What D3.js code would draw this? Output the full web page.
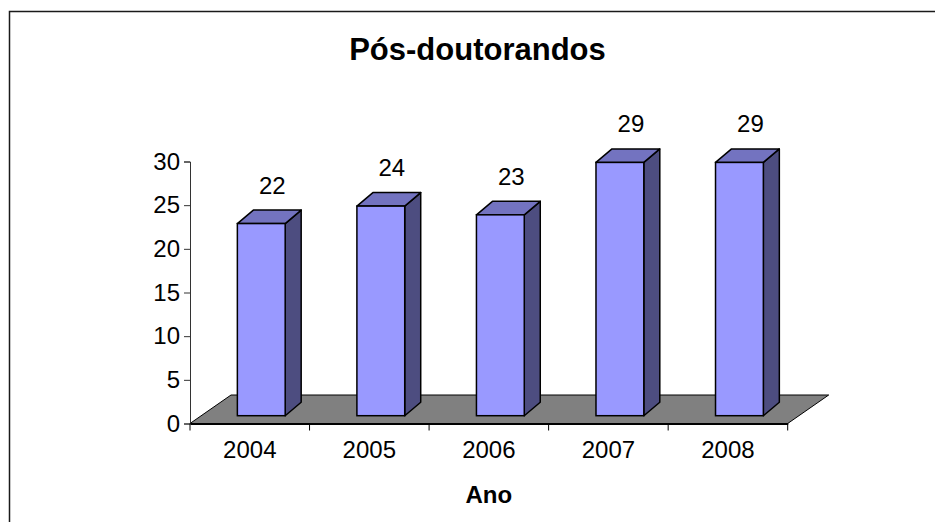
<!DOCTYPE html>
<html>
<head>
<meta charset="utf-8">
<script src="https://cdn.jsdelivr.net/npm/d3@7"></script>
<style>
  body { margin: 0; background: #fff; }
  text { font-family: "Liberation Sans", Arial, sans-serif; }
</style>
</head>
<body>
<svg id="drawing_region"></svg>
<script>
const years = ["2004", "2005", "2006", "2007", "2008"];
const values = [22, 24, 23, 29, 29];
const yTicks = [0, 5, 10, 15, 20, 25, 30];
const chartTitle = "Pós-doutorandos";
const xTitle = "Ano";

class BarChart3D {

    constructor( config ) {
        this.config = {
            parent: config.parent,
            width: config.width || 935,
            height: config.height || 522,
            margin: config.margin || {top:10, right:10, bottom:10, left:10}
        }
        this.init();
    }

    init() {
        let self = this;

        self.svg = d3.select( self.config.parent )
            .attr('width', self.config.width)
            .attr('height', self.config.height);

        // plot area: front edge of the floor
        self.x0 = 190; self.x1 = 787.7;
        self.y0 = 423.5; self.y1 = 161.5;

        self.xscale = d3.scaleBand()
            .domain( years )
            .range( [self.x0, self.x1] )
            .padding( 0 );

        self.yscale = d3.scaleLinear()
            .domain( [0, 30] )
            .range( [self.y0, self.y1] );
    }

    render() {
        let self = this;
        const floorD = {dx: 41, dy: -28.5};
        const barOff = {dx: 11.5, dy: -7.8};
        const barD = {dx: 16, dy: -13.5};
        const barRatio = 0.4;

        // outer border
        self.svg.append('rect')
            .attr('x', 9.5).attr('y', 11.5)
            .attr('width', 1000).attr('height', 1000)
            .attr('fill', 'none')
            .attr('stroke', '#1a1a1a')
            .attr('stroke-width', 1.5);

        // title
        self.svg.append('text')
            .attr('x', 477.5).attr('y', 60)
            .attr('text-anchor', 'middle')
            .attr('font-size', 31).attr('font-weight', 'bold')
            .text( chartTitle );

        // floor
        const floor = [[self.x0, self.y0], [self.x1, self.y0],
                       [self.x1 + floorD.dx, self.y0 + floorD.dy],
                       [self.x0 + floorD.dx, self.y0 + floorD.dy]];
        self.svg.append('path')
            .attr('d', d3.line()(floor) + 'Z')
            .attr('fill', '#808080')
            .attr('stroke', '#000')
            .attr('stroke-width', 1);

        // y axis
        const yAxis = d3.axisLeft( self.yscale )
            .tickValues( yTicks )
            .tickSize( 6 )
            .tickPadding( 4 );
        const ga = self.svg.append('g')
            .attr('transform', `translate(${self.x0},0)`)
            .call( yAxis );
        ga.select('.domain').attr('stroke', '#333').attr('stroke-width', 1);
        ga.selectAll('line').attr('stroke', '#333');
        ga.selectAll('text')
            .attr('font-size', 24)
            .attr('fill', '#000')
            .attr('font-family', '"Liberation Sans", Arial, sans-serif');

        // x axis
        const xAxis = d3.axisBottom( self.xscale )
            .tickSize( 0 )
            .tickPadding( 0 );
        const gx = self.svg.append('g')
            .attr('transform', `translate(0,${self.y0})`)
            .call( xAxis );
        gx.select('.domain').attr('stroke', '#000').attr('stroke-width', 2);
        gx.selectAll('text')
            .attr('font-size', 24)
            .attr('fill', '#000')
            .attr('dy', null)
            .attr('y', 34.5)
            .attr('font-family', '"Liberation Sans", Arial, sans-serif');
        // ticks between categories
        const bounds = years.map( d => self.xscale(d) ).concat([self.x1]);
        gx.selectAll('.sep')
            .data( bounds )
            .enter()
            .append('line')
            .attr('x1', d => d).attr('x2', d => d)
            .attr('y1', 0).attr('y2', 7)
            .attr('stroke', '#000');

        // bars
        const bw = self.xscale.bandwidth();
        const barW = bw * barRatio;
        const bars = years.map( (d, i) => {
            const xl = self.xscale(d) + (bw - barW) / 2 + barOff.dx;
            const xr = xl + barW;
            const yt = self.yscale( values[i] ) + barOff.dy;
            const yb = self.yscale( 0 ) + barOff.dy;
            return {year: d, value: values[i], xl, xr, yt, yb};
        });

        const g = self.svg.selectAll('.bar')
            .data( bars )
            .enter()
            .append('g')
            .attr('class', 'bar');

        g.append('path')
            .attr('d', b => d3.line()([[b.xr, b.yt], [b.xr + barD.dx, b.yt + barD.dy],
                                       [b.xr + barD.dx, b.yb + barD.dy], [b.xr, b.yb]]) + 'Z')
            .attr('fill', '#4d4d80')
            .attr('stroke', '#000')
            .attr('stroke-width', 1.5)
            .attr('stroke-linejoin', 'round');

        g.append('path')
            .attr('d', b => d3.line()([[b.xl, b.yt], [b.xr, b.yt],
                                       [b.xr + barD.dx, b.yt + barD.dy], [b.xl + barD.dx, b.yt + barD.dy]]) + 'Z')
            .attr('fill', '#7373c0')
            .attr('stroke', '#000')
            .attr('stroke-width', 1.5)
            .attr('stroke-linejoin', 'round');

        g.append('rect')
            .attr('x', b => b.xl)
            .attr('y', b => b.yt)
            .attr('width', barW)
            .attr('height', b => b.yb - b.yt)
            .attr('fill', '#9999ff')
            .attr('stroke', '#000')
            .attr('stroke-width', 1.5);

        g.append('text')
            .attr('x', b => (b.xl + b.xr) / 2 + barD.dx / 2 + 3)
            .attr('y', b => b.yt - 30)
            .attr('text-anchor', 'middle')
            .attr('font-size', 24)
            .text( b => b.value );

        // x axis title
        self.svg.append('text')
            .attr('x', (self.x0 + self.x1) / 2).attr('y', 503)
            .attr('text-anchor', 'middle')
            .attr('font-size', 24).attr('font-weight', 'bold')
            .text( xTitle );
    }
}

const chart = new BarChart3D( {parent: '#drawing_region', width: 935, height: 522} );
chart.render();
</script>
</body>
</html>
